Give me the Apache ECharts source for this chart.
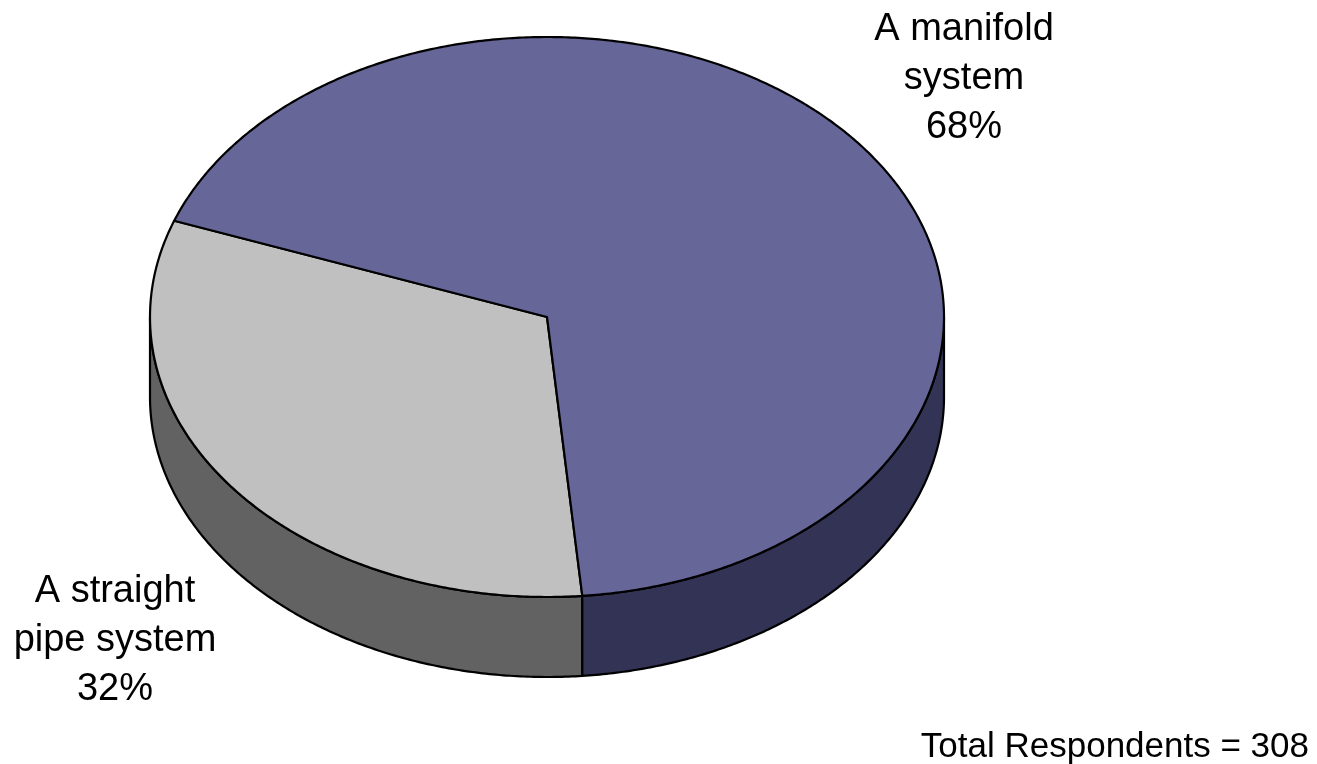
<!DOCTYPE html>
<html>
<head>
<meta charset="utf-8">
<style>html,body{margin:0;padding:0;background:#fff}#c{width:1317px;height:764px}</style>
<script src="https://cdn.jsdelivr.net/npm/echarts@6/dist/echarts.min.js"></script>
</head>
<body>
<div id="c"></div>
<script>
const categories = ['A straight pipe system', 'A manifold system'];
const shares = [32, 68];
const topColors = ['#C0C0C0', '#666699'];
const wallColors = ['#626262', '#333355'];
const labelLines = [['A straight', 'pipe system', '32%'], ['A manifold', 'system', '68%']];
const footnote = 'Total Respondents = 308';

const cx = 547, cy = 317, rx = 397, ry = 280, depth = 80;
const startDeg = -5.1;          // clock angle measured from straight down, running clockwise
const lineColor = '#000';

function rim(deg, dy) {
  const a = deg * Math.PI / 180;
  return [cx - rx * Math.sin(a), cy + ry * Math.cos(a) + (dy || 0)];
}
function arc(from, to, dy) {
  const pts = [], n = Math.max(2, Math.ceil(Math.abs(to - from) * 2));
  for (let i = 0; i <= n; i++) pts.push(rim(from + (to - from) * i / n, dy));
  return pts;
}

const total = shares.reduce((a, b) => a + b, 0);
const slices = [];
let running = startDeg;
shares.forEach((v, i) => {
  const sweep = v / total * 360;
  slices.push({ from: running, to: running + sweep, i });
  running += sweep;
});

// Only the front half of the rim (clock angles -90..90) shows a side wall.
function wallSpans(s) {
  const spans = [];
  for (const shift of [0, 360]) {
    const a = Math.max(s.from, -90 + shift), b = Math.min(s.to, 90 + shift);
    if (a < b) spans.push([a, b]);
  }
  return spans;
}

function renderItem(params, api) {
  const kind = api.value(0), idx = api.value(1);
  const s = slices[idx];
  const style = { stroke: lineColor, lineWidth: 2.2, lineJoin: 'round' };
  if (kind === 1) {
    return {
      type: 'polygon',
      shape: { points: [[cx, cy]].concat(arc(s.from, s.to)) },
      style: Object.assign({ fill: topColors[idx] }, style)
    };
  }
  const children = wallSpans(s).map(([a, b]) => ({
    type: 'polygon',
    shape: { points: arc(a, b).concat(arc(b, a, depth)) },
    style: Object.assign({ fill: wallColors[idx] }, style)
  }));
  return { type: 'group', children };
}

// Walls first, then the top faces drawn over them.
const marks = [];
shares.forEach((_, i) => marks.push([0, i]));
shares.forEach((_, i) => marks.push([1, i]));

const fontFamily = 'Liberation Sans, Arial, sans-serif';
const labelStyle = { fontFamily, fontSize: 38, fill: '#000', align: 'center', lineHeight: 49 };
const chart = echarts.init(document.getElementById('c'), null, { renderer: 'canvas' });
chart.setOption({
  animation: false,
  backgroundColor: '#fff',
  series: [{
    type: 'custom',
    coordinateSystem: 'none',
    data: marks,
    renderItem,
    silent: true
  }],
  graphic: [
    { type: 'text', x: 115, y: 567, style: Object.assign({ text: labelLines[0].join('\n') }, labelStyle) },
    { type: 'text', x: 964, y: 5, style: Object.assign({ text: labelLines[1].join('\n') }, labelStyle) },
    { type: 'text', x: 1309, y: 723, style: { text: footnote, align: 'right', fontFamily, fontSize: 35, lineHeight: 49, fill: '#000' } }
  ]
});
</script>
</body>
</html>
